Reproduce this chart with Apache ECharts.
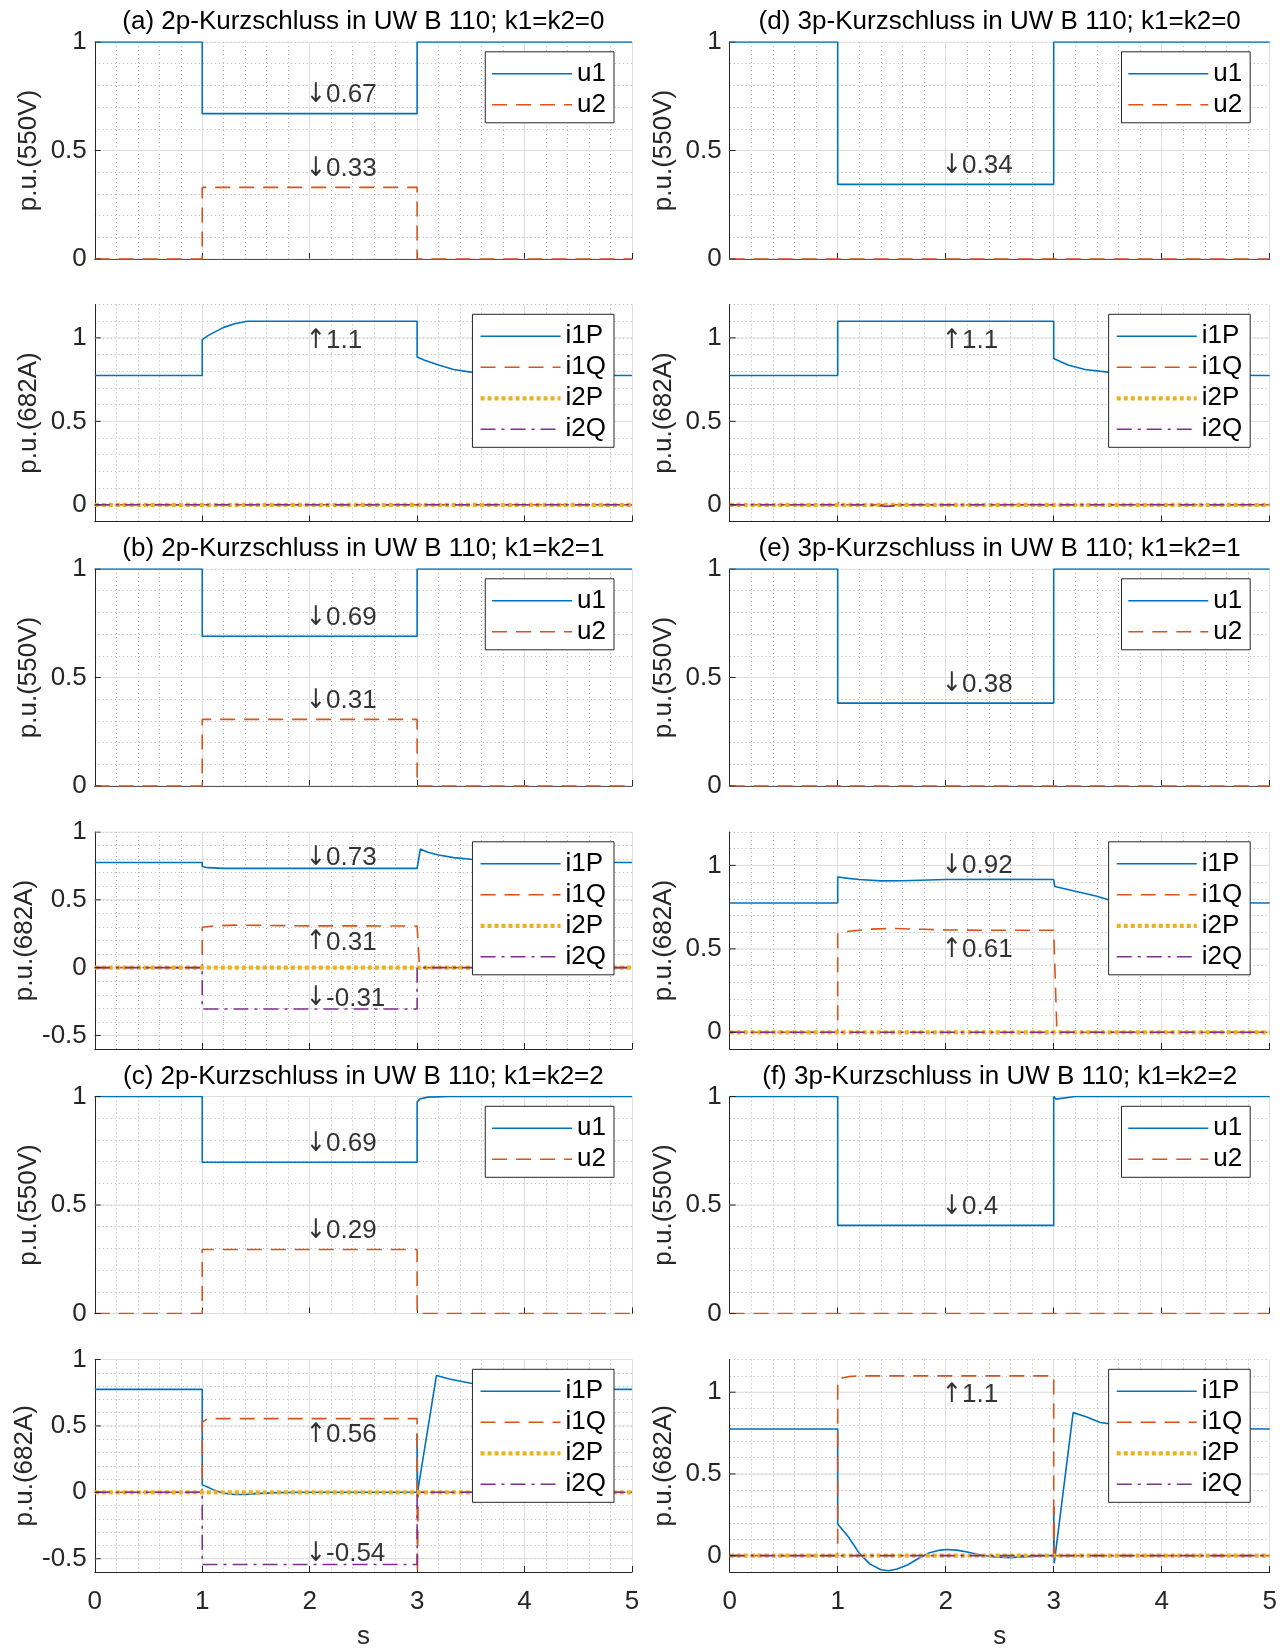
<!DOCTYPE html>
<html><head><meta charset="utf-8">
<script src="https://cdn.jsdelivr.net/npm/echarts@6/dist/echarts.min.js"></script>
<style>html,body{margin:0;padding:0;background:#fff}#c{width:1286px;height:1651px}</style>
</head><body><div id="c"></div>
<script>
// ================= DATA =================
const xTicks = [0, 1, 2, 3, 4, 5];
const yMajorTicks = [-0.5, 0, 0.5, 1];
const xName = 's';
const yNameU = 'p.u.(550V)';
const yNameI = 'p.u.(682A)';
const namesU = ['u1', 'u2'];
const namesI = ['i1P', 'i1Q', 'i2P', 'i2Q'];
const titles = [
  '(a) 2p-Kurzschluss in UW B 110; k1=k2=0',
  '(b) 2p-Kurzschluss in UW B 110; k1=k2=1',
  '(c) 2p-Kurzschluss in UW B 110; k1=k2=2',
  '(d) 3p-Kurzschluss in UW B 110; k1=k2=0',
  '(e) 3p-Kurzschluss in UW B 110; k1=k2=1',
  '(f) 3p-Kurzschluss in UW B 110; k1=k2=2'
];

// (a) 2p, k=0
const a_u1 = [[0,1],[1,1],[1,0.67],[3,0.67],[3,1],[5,1]];
const a_u2 = [[0,0],[1,0],[1,0.33],[3,0.33],[3,0],[5,0]];
const a_i1P = [[0,0.775],[1,0.775],[1,0.99],[1.05,1.012],[1.1,1.03],[1.2,1.063],[1.3,1.085],[1.42,1.1],[3,1.1],[3,0.886],[3.07,0.866],[3.2,0.837],[3.34,0.811],[3.5,0.795],[3.7,0.784],[4,0.777],[5,0.775]];
const a_i1Q = [[0,0],[1,0],[1,0.01],[1.05,0],[5,0]];
const a_i2P = [[0,0],[5,0]];
const a_i2Q = [[0,0],[5,0]];
const a_uNotes = [[2,0.67,'↓','0.67'],[2,0.33,'↓','0.33']];
const a_iNotes = [[2,1.1,'↑','1.1']];

// (b) 2p, k=1
const b_u1 = [[0,1],[1,1],[1,0.69],[3,0.69],[3,1],[5,1]];
const b_u2 = [[0,0],[1,0],[1,0.307],[3,0.307],[3,0],[5,0]];
const b_i1P = [[0,0.775],[1,0.775],[1,0.745],[1.05,0.737],[1.2,0.732],[3,0.732],[3.03,0.874],[3.1,0.85],[3.2,0.83],[3.34,0.811],[3.5,0.799],[3.7,0.787],[4,0.778],[5,0.775]];
const b_i1Q = [[0,0],[1,0],[1,0.298],[1.1,0.307],[1.3,0.313],[2,0.308],[3,0.307],[3.02,0.03],[3.03,0],[5,0]];
const b_i2P = [[0,0],[5,0]];
const b_i2Q = [[0,0],[1,0],[1,-0.305],[3,-0.305],[3,0],[5,0]];
const b_uNotes = [[2,0.69,'↓','0.69'],[2,0.307,'↓','0.31']];
const b_iNotes = [[2,0.732,'↓','0.73'],[2,0.308,'↑','0.31'],[2,-0.305,'↓','-0.31']];

// (c) 2p, k=2
const c_u1 = [[0,1],[1,1],[1,0.697],[3,0.697],[3,0.975],[3.03,0.99],[3.1,0.997],[3.3,1],[5,1]];
const c_u2 = [[0,0],[1,0],[1,0.295],[3,0.295],[3,0],[5,0]];
const c_i1P = [[0,0.775],[1,0.775],[1,0.056],[1.05,0.04],[1.1,0.02],[1.2,-0.007],[1.3,-0.017],[1.4,-0.016],[1.5,-0.01],[1.7,-0.002],[2,0],[3,0],[3,0.44],[3.004,0],[3.18,0.88],[3.3,0.853],[3.5,0.821],[3.7,0.8],[4,0.786],[4.4,0.777],[5,0.775]];
const c_i1Q = [[0,0],[1,0],[1,0.527],[1.05,0.555],[3,0.555],[3.002,-0.7],[3.01,0],[5,0]];
const c_i2P = [[0,0],[5,0]];
const c_i2Q = [[0,0],[1,0],[1,-0.544],[3,-0.544],[3,0],[5,0]];
const c_uNotes = [[2,0.697,'↓','0.69'],[2,0.295,'↓','0.29']];
const c_iNotes = [[2,0.555,'↑','0.56'],[2,-0.544,'↓','-0.54']];

// (d) 3p, k=0
const d_u1 = [[0,1],[1,1],[1,0.344],[3,0.344],[3,1],[5,1]];
const d_u2 = [[0,0],[5,0]];
const d_i1P = [[0,0.775],[1,0.775],[1,1.1],[3,1.1],[3,0.877],[3.07,0.855],[3.14,0.836],[3.29,0.811],[3.5,0.795],[3.7,0.784],[4,0.778],[5,0.775]];
const d_i1Q = [[0,0],[1,0],[1.01,0.02],[1.04,0.005],[1.08,0],[5,0]];
const d_i2P = [[0,0],[5,0]];
const d_i2Q = [[0,0],[1.3,0],[1.45,-0.01],[1.6,0],[5,0]];
const d_uNotes = [[2,0.344,'↓','0.34']];
const d_iNotes = [[2,1.1,'↑','1.1']];

// (e) 3p, k=1
const e_u1 = [[0,1],[1,1],[1,0.382],[3,0.382],[3,1],[5,1]];
const e_u2 = [[0,0],[5,0]];
const e_i1P = [[0,0.775],[1,0.775],[1,0.93],[1.1,0.922],[1.2,0.915],[1.4,0.907],[1.6,0.908],[2,0.915],[2.5,0.916],[3,0.915],[3.01,0.873],[3.1,0.86],[3.2,0.845],[3.4,0.815],[3.5,0.796],[3.7,0.785],[4,0.778],[5,0.775]];
const e_i1Q = [[0,0],[1,0],[1,0.589],[1.1,0.605],[1.3,0.618],[1.5,0.622],[1.8,0.617],[2,0.613],[2.5,0.611],[3,0.611],[3.03,0],[5,0]];
const e_i2P = [[0,0],[5,0]];
const e_i2Q = [[0,0],[5,0]];
const e_uNotes = [[2,0.382,'↓','0.38']];
const e_iNotes = [[2,0.915,'↓','0.92'],[2,0.611,'↑','0.61']];

// (f) 3p, k=2
const f_u1 = [[0,1],[1,1],[1,0.406],[3,0.406],[3,1],[3.02,0.988],[3.2,1],[5,1]];
const f_u2 = [[0,0],[5,0]];
const f_i1P = [[0,0.775],[1,0.775],[1,0.193],[1.1,0.114],[1.2,0.014],[1.3,-0.052],[1.4,-0.086],[1.47,-0.092],[1.55,-0.082],[1.65,-0.056],[1.75,-0.016],[1.85,0.018],[1.95,0.034],[2.01,0.038],[2.1,0.034],[2.2,0.022],[2.32,0.004],[2.45,-0.008],[2.6,-0.012],[2.75,-0.006],[2.9,0],[3,0],[3,0.3],[3.005,-0.046],[3.18,0.875],[3.3,0.85],[3.43,0.815],[3.6,0.8],[3.8,0.787],[4.1,0.778],[5,0.775]];
const f_i1Q = [[0,0],[1,0],[1,1.076],[1.05,1.088],[1.1,1.095],[1.2,1.1],[3,1.1],[3,0],[3.003,0.3],[3.006,0],[5,0]];
const f_i2P = [[0,0],[5,0]];
const f_i2Q = [[0,0],[5,0]];
const f_uNotes = [[2,0.406,'↓','0.4']];
const f_iNotes = [[2,1.1,'↑','1.1']];

// ================= STYLE / LAYOUT =================
const FONT = '"Liberation Sans", Arial, Helvetica, sans-serif';
const ARROW_FONT = '"DejaVu Sans Condensed", "DejaVu Sans", sans-serif';
const FS = 26;
const AXC = '#262626';
const NOTE_OFFSET = 0.1; // label offset from the marked level, in data units
const STY = {
  u1:  {color:'#0072BD', width:1.6, type:'solid'},
  u2:  {color:'#D95319', width:1.6, type:[15,9]},
  i1P: {color:'#0072BD', width:1.6, type:'solid'},
  i1Q: {color:'#D95319', width:1.6, type:[15,9]},
  i2P: {color:'#EDB120', width:4.2, type:[4,3]},
  i2Q: {color:'#7E2F8E', width:1.6, type:[15,6,3,6]}
};
const colLeft = [94.8, 729.7];
const colWidth = [537.2, 540];
const rowTop = [42, 304.5, 569, 832, 1096.5, 1359.5];
const rowH = 217;

const panels = [
  {col:0,row:0,kind:'u',ymin:0,ymax:1,title:titles[0],data:[a_u1,a_u2],notes:a_uNotes},
  {col:0,row:1,kind:'i',ymin:-0.1,ymax:1.2,data:[a_i1P,a_i1Q,a_i2P,a_i2Q],notes:a_iNotes},
  {col:0,row:2,kind:'u',ymin:0,ymax:1,title:titles[1],data:[b_u1,b_u2],notes:b_uNotes},
  {col:0,row:3,kind:'i',ymin:-0.6,ymax:1,data:[b_i1P,b_i1Q,b_i2P,b_i2Q],notes:b_iNotes},
  {col:0,row:4,kind:'u',ymin:0,ymax:1,title:titles[2],data:[c_u1,c_u2],notes:c_uNotes},
  {col:0,row:5,kind:'i',ymin:-0.6,ymax:1,data:[c_i1P,c_i1Q,c_i2P,c_i2Q],notes:c_iNotes},
  {col:1,row:0,kind:'u',ymin:0,ymax:1,title:titles[3],data:[d_u1,d_u2],notes:d_uNotes},
  {col:1,row:1,kind:'i',ymin:-0.1,ymax:1.2,data:[d_i1P,d_i1Q,d_i2P,d_i2Q],notes:d_iNotes},
  {col:1,row:2,kind:'u',ymin:0,ymax:1,title:titles[4],data:[e_u1,e_u2],notes:e_uNotes},
  {col:1,row:3,kind:'i',ymin:-0.1,ymax:1.2,data:[e_i1P,e_i1Q,e_i2P,e_i2Q],notes:e_iNotes},
  {col:1,row:4,kind:'u',ymin:0,ymax:1,title:titles[5],data:[f_u1,f_u2],notes:f_uNotes},
  {col:1,row:5,kind:'i',ymin:-0.1,ymax:1.2,data:[f_i1P,f_i1Q,f_i2P,f_i2Q],notes:f_iNotes}
];

const grids = [], xAxes = [], yAxes = [], series = [], legends = [], graphics = [];
const xMin = xTicks[0], xMax = xTicks[xTicks.length - 1];

panels.forEach((p, k) => {
  const left = colLeft[p.col], top = rowTop[p.row], width = colWidth[p.col];
  const last = p.row === 5;
  grids.push({left: left, top: top, width: width, height: rowH, containLabel: false});
  xAxes.push({
    gridIndex: k, type: 'value', min: xMin, max: xMax, interval: 1,
    axisLine: {show: true, onZero: false, lineStyle: {color: AXC, width: 1}},
    axisTick: {show: true, inside: true, length: 6, lineStyle: {color: AXC}},
    axisLabel: {show: last, fontSize: FS, color: AXC, fontFamily: FONT, margin: 17},
    splitLine: {show: true, lineStyle: {color: '#dedede', width: 1}},
    minorTick: {show: false, splitNumber: 5},
    minorSplitLine: {show: true, lineStyle: {color: '#b0b0b0', width: 1, type: [1, 3]}},
    name: last ? xName : '', nameLocation: 'middle', nameGap: 52,
    nameTextStyle: {fontSize: FS, color: AXC, fontFamily: FONT}
  });
  yAxes.push({
    gridIndex: k, type: 'value', min: p.ymin, max: p.ymax, interval: 0.1,
    axisLine: {show: true, onZero: false, lineStyle: {color: AXC, width: 1}},
    axisTick: {show: false},
    axisLabel: {
      fontSize: FS, color: AXC, fontFamily: FONT, margin: 8,
      formatter: v => { const r = Math.round(v * 1000) / 1000; return yMajorTicks.indexOf(r) >= 0 ? String(r) : ''; }
    },
    splitLine: {show: true, lineStyle: {color: '#b0b0b0', width: 1, type: [1, 3]}},
    name: p.kind === 'u' ? yNameU : yNameI, nameLocation: 'middle', nameGap: 53, nameRotate: 90,
    nameTextStyle: {fontSize: FS, color: AXC, fontFamily: FONT}
  });
  // major horizontal grid lines and y ticks (from tick array, through axes)
  yMajorTicks.filter(v => v >= p.ymin - 1e-9 && v <= p.ymax + 1e-9).forEach(v => {
    series.push({type: 'line', xAxisIndex: k, yAxisIndex: k, silent: true, z: 1, symbol: 'none',
      data: [[xMin, v], [xMax, v]], lineStyle: {color: '#dedede', width: 1}, animation: false});
    series.push({type: 'line', xAxisIndex: k, yAxisIndex: k, silent: true, z: 4, symbol: 'none',
      data: [[xMin, v], [xMin + 0.055, v]], lineStyle: {color: AXC, width: 1}, animation: false});
  });
  const names = p.kind === 'u' ? namesU : namesI;
  names.forEach((n, j) => {
    const s = STY[n];
    series.push({
      type: 'line', name: n, xAxisIndex: k, yAxisIndex: k, data: p.data[j],
      symbol: 'none', showSymbol: false, z: 3, clip: true, animation: false,
      lineStyle: {color: s.color, width: s.width, type: s.type}, itemStyle: {color: s.color}
    });
  });
  series.push({
    type: 'scatter', xAxisIndex: k, yAxisIndex: k, symbolSize: 1, silent: true, z: 5, animation: false,
    itemStyle: {color: 'rgba(0,0,0,0)'},
    data: p.notes.map(n => ({
      value: [n[0], n[1] + (n[2] === '↓' ? NOTE_OFFSET : -NOTE_OFFSET)],
      label: {show: true, formatter: '{a|' + n[2] + '}' + n[3], position: 'inside',
        align: 'left', verticalAlign: 'middle', offset: [-4, 3],
        fontSize: FS, color: '#000', fontFamily: FONT,
        rich: {a: {fontFamily: ARROW_FONT, fontSize: 27, color: '#000'}}}
    }))
  });
  legends.push({
    orient: 'vertical', right: p.col === 0 ? 672 : 35.8, top: top + 9.8,
    itemWidth: 80, itemHeight: 14, itemGap: 5, padding: [9, 8, 5, 6],
    backgroundColor: '#fff', borderColor: AXC, borderWidth: 1, borderRadius: 0,
    selectedMode: false, z: 10,
    textStyle: {fontSize: FS, color: '#000', fontFamily: FONT},
    data: names.map(n => ({
      name: n,
      lineStyle: {color: STY[n].color, width: STY[n].width, type: STY[n].type},
      itemStyle: {color: 'rgba(0,0,0,0)', borderWidth: 0, opacity: 0}
    }))
  });
  if (p.title) {
    graphics.push({type: 'text', x: left + width / 2, y: top - 20, z: 20,
      style: {text: p.title, fontSize: FS, fontFamily: FONT, fill: '#000', textAlign: 'center', textVerticalAlign: 'middle'}});
  }
});

const chart = echarts.init(document.getElementById('c'), null, {renderer: 'canvas', width: 1286, height: 1651});
chart.setOption({
  animation: false,
  backgroundColor: '#fff',
  textStyle: {fontFamily: FONT},
  grid: grids, xAxis: xAxes, yAxis: yAxes, series: series, legend: legends, graphic: graphics
});
</script></body></html>
